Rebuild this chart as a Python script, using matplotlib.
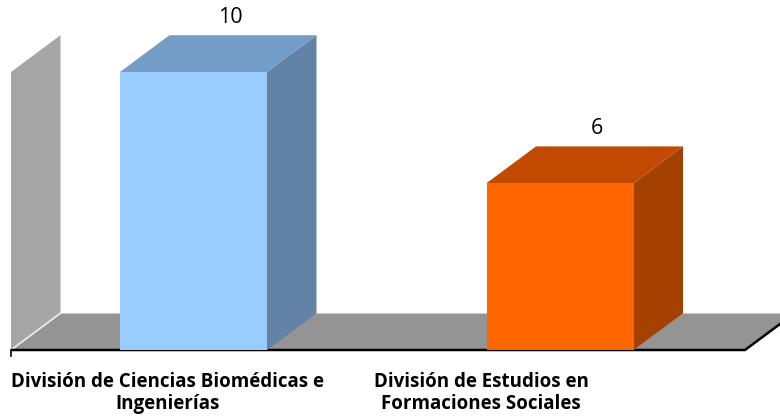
import matplotlib
matplotlib.use("Agg")
import matplotlib.pyplot as plt
from matplotlib.patches import Polygon

categories = ["División de Ciencias Biomédicas e\nIngenierías",
              "División de Estudios en\nFormaciones Sociales"]
values = [10, 6]
axis_max = 10

front_colors = ["#99ccff", "#ff6600"]
top_colors = ["#739dc6", "#c24a00"]
side_colors = ["#6283a7", "#a54100"]

W, H = 780, 416
fig = plt.figure(figsize=(W / 100, H / 100), dpi=100)
ax = fig.add_axes([0, 0, 1, 1])
ax.set_axis_off()

# scales: x in category units, y in value units
px_x = 366.5          # pixels per category
x0_px = 193.5         # pixel of category 0 centre
px_y = 27.8           # pixels per value unit
y0_px = 66            # pixels from bottom for value 0
ax.set_xlim(-x0_px / px_x, (W - x0_px) / px_x)
ax.set_ylim(-y0_px / px_y, (H - y0_px) / px_y)

dx = 49.5 / px_x      # depth offset
dy = 36.8 / px_y
bw = 147 / px_x       # bar width

wall_x = (11 - x0_px) / px_x
floor_right = (745 - x0_px) / px_x

# wall
ax.add_patch(Polygon([(wall_x, 0), (wall_x + dx, dy), (wall_x + dx, axis_max + dy),
                      (wall_x, axis_max)], closed=True, fc="#a6a6a6", ec="none", zorder=1))
# floor
ax.add_patch(Polygon([(wall_x, 0), (floor_right, 0), (floor_right + dx, dy),
                      (wall_x + dx, dy)], closed=True, fc="#949494", ec="none", zorder=1))
ax.plot([wall_x + dx, floor_right + dx], [dy, dy], color="#c8c8c8", lw=0.8, zorder=1.5)
ax.plot([wall_x, wall_x + dx], [0, dy], color="#f0f0f0", lw=1.2, zorder=1.5)
ax.plot([wall_x, floor_right, floor_right + dx], [0, 0, dy], color="black", lw=1.8,
        zorder=1.6, solid_capstyle="butt")
ax.plot([wall_x, wall_x], [0, -6 / px_y], color="black", lw=1.2, zorder=1.6)

for i, v in enumerate(values):
    l, r = i - bw / 2, i + bw / 2
    ax.add_patch(Polygon([(r, 0), (r + dx, dy), (r + dx, v + dy), (r, v)],
                         closed=True, fc=side_colors[i], ec="none", zorder=3))
    ax.add_patch(Polygon([(l, v), (r, v), (r + dx, v + dy), (l + dx, v + dy)],
                         closed=True, fc=top_colors[i], ec="none", zorder=3))
    ax.add_patch(Polygon([(l, 0), (r, 0), (r, v), (l, v)],
                         closed=True, fc=front_colors[i], ec="none", zorder=4))
    ax.text(i + dx / 2 + 12 / px_x, v + dy + 0.25, f"{v}", ha="center", va="bottom",
            fontsize=15.5, family="Open Sans", color="black", zorder=5)

label_offsets = [-0.07, -0.215]
for i, c in enumerate(categories):
    ax.text(i + label_offsets[i], -0.78, c, ha="center", va="top", fontsize=13.5,
            family="Open Sans", fontweight="bold", linespacing=1.13, color="black")

fig.savefig("out.png", dpi=100)
